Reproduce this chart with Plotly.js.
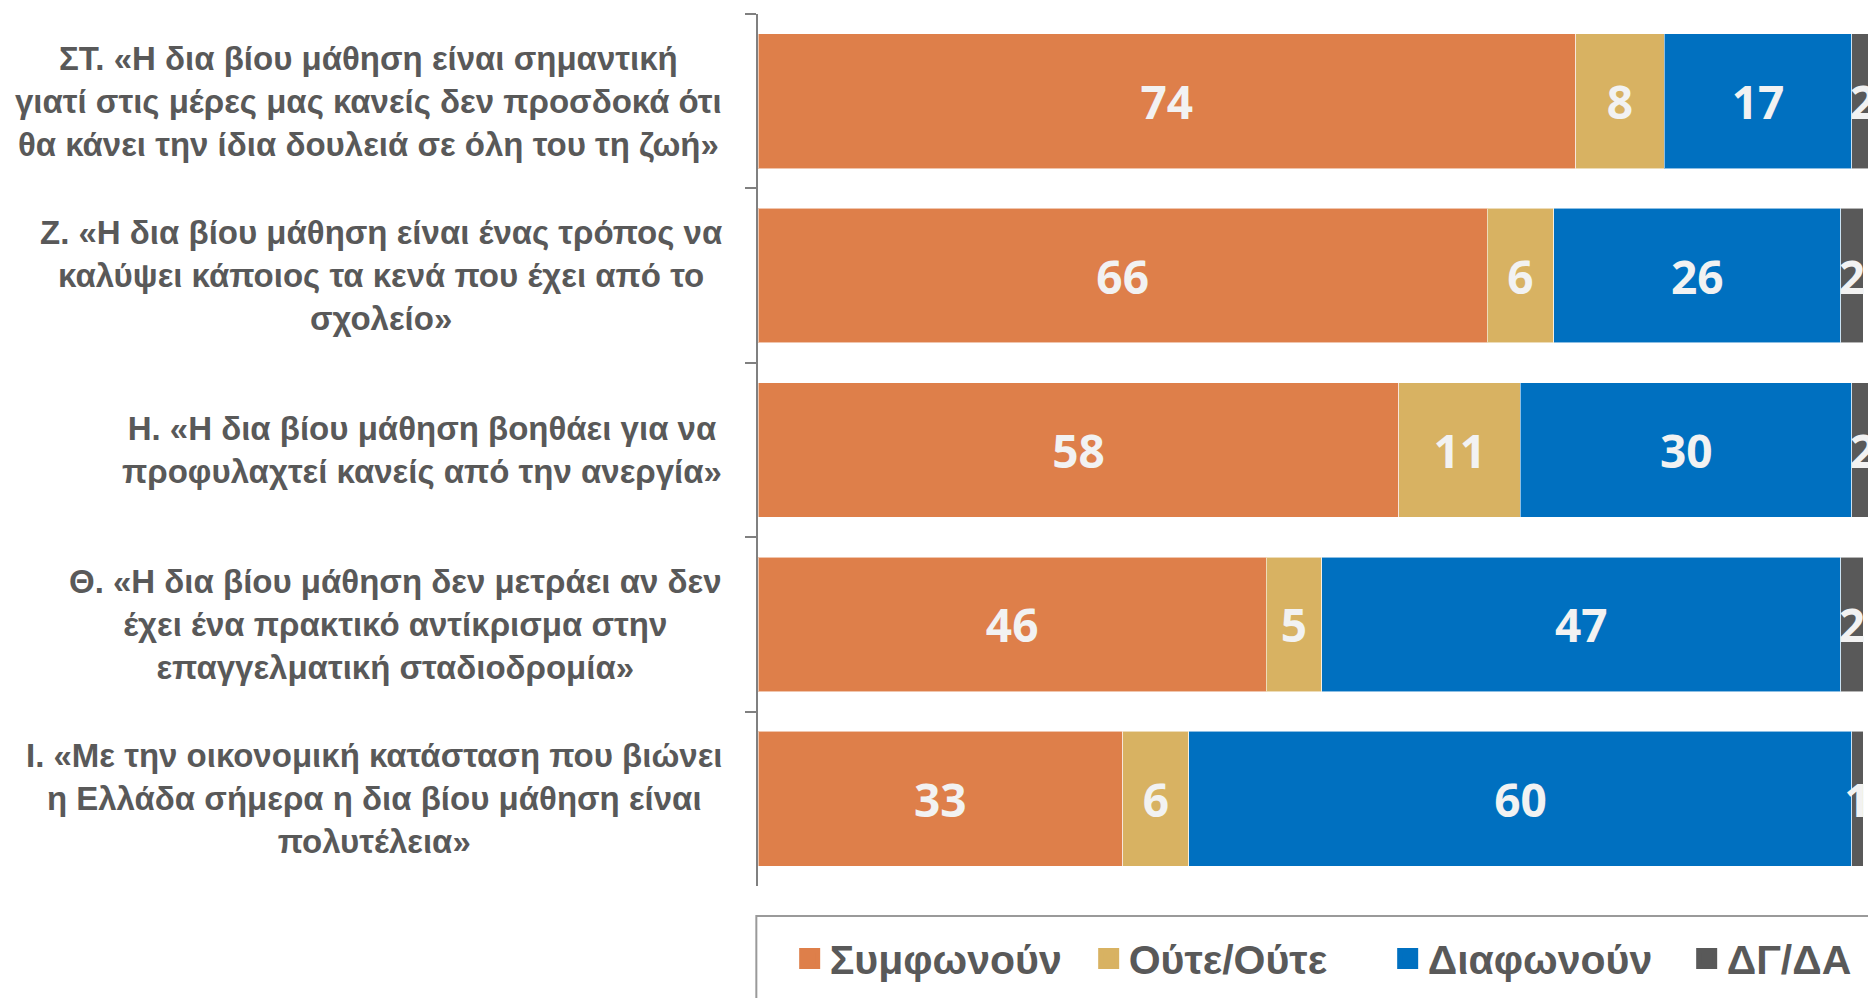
<!DOCTYPE html>
<html>
<head>
<meta charset="utf-8">
<script src="https://cdn.plot.ly/plotly-3.0.1.min.js"></script>
<style>
html, body { margin: 0; padding: 0; background: #ffffff; overflow: hidden; }
#chart { width: 1868px; height: 998px; }
</style>
</head>
<body>
<div id="chart"></div>
<script>
// ---- Data ----
const categories = [
  "ΣΤ. «Η δια βίου μάθηση είναι σημαντική<br>γιατί στις μέρες μας κανείς δεν προσδοκά ότι<br>θα κάνει την ίδια δουλειά σε όλη του τη ζωή»",
  "Ζ. «Η δια βίου μάθηση είναι ένας τρόπος να<br>καλύψει κάποιος τα κενά που έχει από το<br>σχολείο»",
  "Η. «Η δια βίου μάθηση βοηθάει για να<br>προφυλαχτεί κανείς από την ανεργία»",
  "Θ. «Η δια βίου μάθηση δεν μετράει αν δεν<br>έχει ένα πρακτικό αντίκρισμα στην<br>επαγγελματική σταδιοδρομία»",
  "Ι. «Με την οικονομική κατάσταση που βιώνει<br>η Ελλάδα σήμερα η δια βίου μάθηση είναι<br>πολυτέλεια»"
];
const seriesNames = ["Συμφωνούν", "Ούτε/Ούτε", "Διαφωνούν", "ΔΓ/ΔΑ"];
const agree    = [74, 66, 58, 46, 33];
const neither  = [8, 6, 11, 5, 6];
const disagree = [17, 26, 30, 47, 60];
const dkna     = [2, 2, 2, 2, 1];

// ---- Styles ----
const seriesValues = [agree, neither, disagree, dkna];
const colors = ["#DE7F4A", "#D8B262", "#0070C0", "#595959"];
const labelFont = "'Liberation Sans Narrow', 'Arial Narrow', sans-serif";
const valueFont = "'Open Sans', sans-serif";
const textGray = "#595959";

const traces = [];
seriesValues.forEach((vals, i) => {
  traces.push({
    type: "bar",
    orientation: "h",
    name: seriesNames[i],
    y: categories,
    x: vals,
    marker: { color: colors[i], line: { color: "rgba(255,255,255,0.55)", width: 1 } },
    text: vals.map(String),
    textposition: "inside",
    insidetextanchor: "middle",
    textangle: 0,
    constraintext: "none",
    textfont: { family: valueFont, size: 46, weight: 700, color: "#F2F2F2" },
    showlegend: false,
    hoverinfo: "skip"
  });
});
// legend entries (larger square symbols)
seriesNames.forEach((nm, i) => {
  traces.push({
    type: "scatter",
    mode: "markers",
    name: nm,
    x: [null],
    y: [null],
    marker: { symbol: "square", size: 16, color: colors[i], line: { color: colors[i], width: 5 } },
    showlegend: true,
    hoverinfo: "skip"
  });
});

const annotations = categories.map(c => ({
  xref: "paper", yref: "y",
  x: 0, y: c,
  xanchor: "right", yanchor: "middle",
  align: "center",
  xshift: -34,
  showarrow: false,
  text: c,
  font: { family: labelFont, size: 33, weight: 700, color: textGray }
}));

const layout = {
  width: 1868,
  height: 998,
  margin: { l: 758, r: 0, t: 14, b: 112, autoexpand: false },
  paper_bgcolor: "#ffffff",
  plot_bgcolor: "#ffffff",
  barmode: "stack",
  bargap: 0.228,
  showlegend: true,
  xaxis: {
    range: [0, 100.45],
    showgrid: false, zeroline: false, showline: false,
    showticklabels: false, ticks: "", fixedrange: true
  },
  yaxis: {
    type: "category",
    categoryorder: "array",
    categoryarray: categories,
    autorange: "reversed",
    showgrid: false, zeroline: false,
    showline: true, linecolor: "#808080", linewidth: 2,
    ticks: "outside", tickson: "boundaries", ticklen: 11, tickwidth: 2, tickcolor: "#808080",
    showticklabels: false, fixedrange: true
  },
  legend: {
    orientation: "h",
    traceorder: "normal",
    x: -0.0005, xanchor: "left",
    y: -0.045, yanchor: "top",
    bgcolor: "rgba(0,0,0,0)",
    borderwidth: 0,
    entrywidth: 254,
    entrywidthmode: "pixels",
    font: { family: labelFont, size: 41, weight: 700, color: textGray },
    title: { text: "\u00a0\u00a0", side: "left", font: { family: labelFont, size: 40, color: textGray } }
  },
  shapes: [{
    type: "rect", xref: "paper", yref: "paper",
    x0: -0.0015, x1: 1.2, y0: -0.0344, y1: -0.5,
    line: { color: "#9A9A9A", width: 2 },
    fillcolor: "rgba(0,0,0,0)",
    layer: "below"
  }],
  annotations: annotations,
  hovermode: false
};

Plotly.newPlot("chart", traces, layout, { displayModeBar: false, staticPlot: true });
</script>
</body>
</html>
